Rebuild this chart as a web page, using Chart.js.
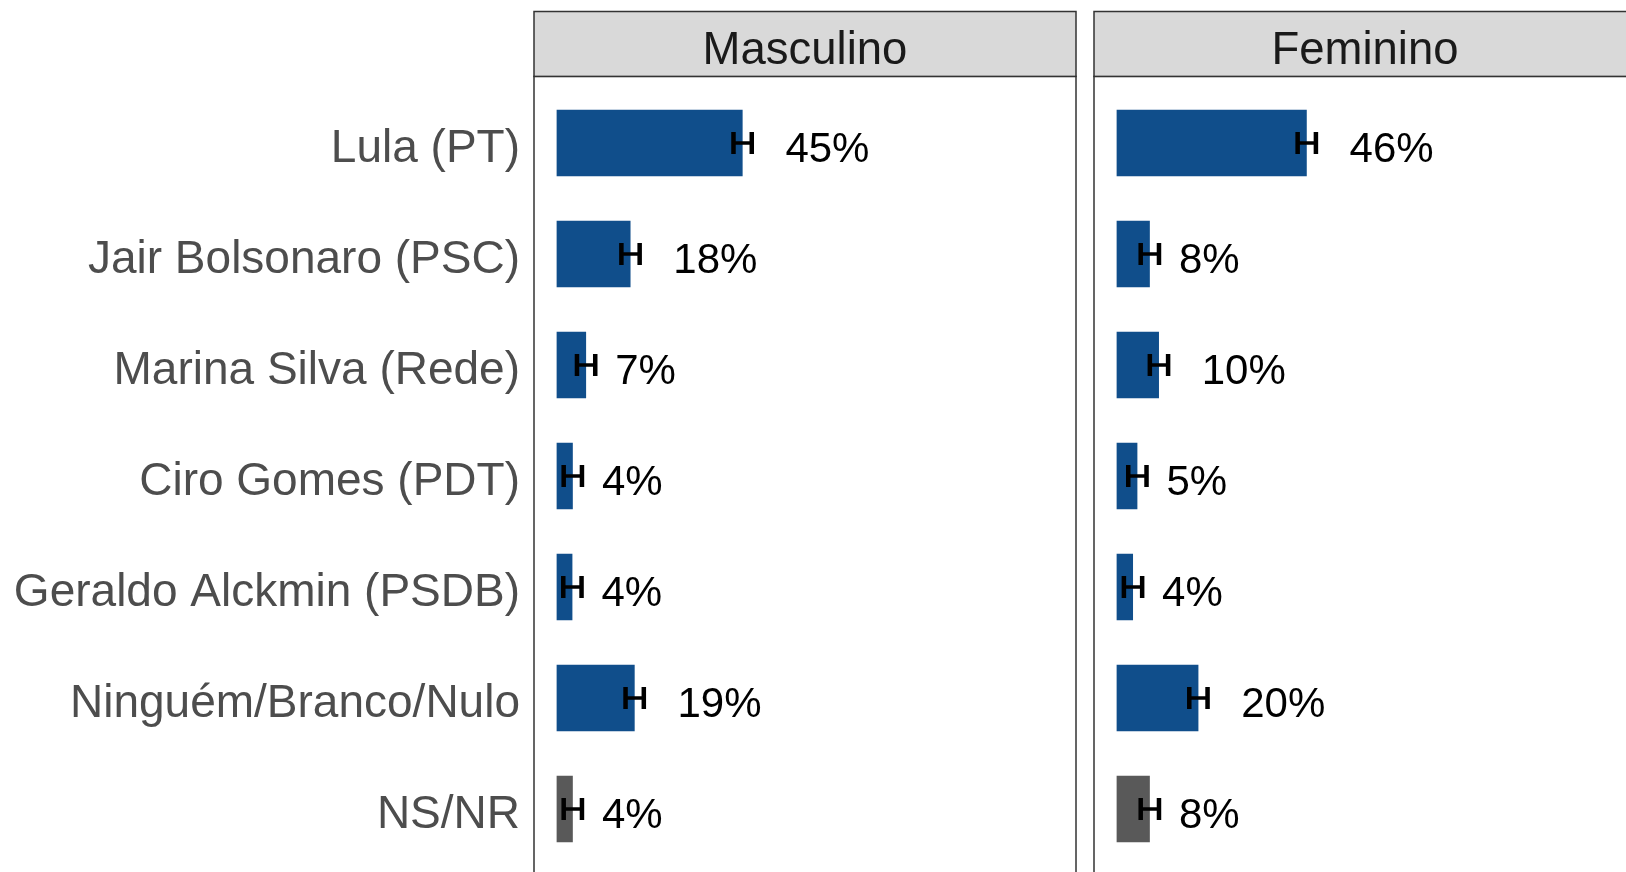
<!DOCTYPE html>
<html>
<head>
<meta charset="utf-8">
<script src="https://cdn.jsdelivr.net/npm/chart.js@4.4.1/dist/chart.umd.min.js"></script>
<style>
  html, body { margin: 0; padding: 0; background: #fff; overflow: hidden; width: 1626px; height: 872px; }
  #wrap { position: relative; width: 1626px; height: 872px; overflow: hidden; }
  .panel { position: absolute; top: 0; height: 880px; }
  #p1 { left: 0; width: 1090px; }
  #p2 { left: 1086px; width: 570px; }
</style>
</head>
<body>
<div id="wrap">
  <div class="panel" id="p1"><canvas id="c1"></canvas></div>
  <div class="panel" id="p2"><canvas id="c2"></canvas></div>
</div>
<script>
const categories = ['Lula (PT)', 'Jair Bolsonaro (PSC)', 'Marina Silva (Rede)', 'Ciro Gomes (PDT)',
                    'Geraldo Alckmin (PSDB)', 'Ninguém/Branco/Nulo', 'NS/NR'];
const panelTitles = ['Masculino', 'Feminino'];
const masculino = [44.8, 17.8, 7.1, 3.9, 3.8, 18.8, 3.9];
const feminino  = [45.8, 8.0, 10.2, 5.0, 3.95, 19.7, 8.0];
const margemErro = 2.2;

const BLUE = '#104E8B', GREY = '#595959';
const FONT = '"Liberation Sans", Arial, sans-serif';
const STRIP_TOP = 11.5;
const X_MIN = -5.45, X_MAX = 125.1;

const facetDecor = {
  id: 'facetDecor',
  beforeDatasetsDraw(chart, args, opts) {
    const { ctx, chartArea: a } = chart;
    const band = (a.bottom - a.top) / categories.length;
    const top = a.top - 0.1 * band, bottom = a.bottom + 0.1 * band;
    ctx.save();
    ctx.strokeStyle = '#333333';
    ctx.lineWidth = 1.5;
    ctx.strokeRect(a.left, top, a.right - a.left, bottom - top);
    // faixa do título
    ctx.fillStyle = '#d9d9d9';
    ctx.fillRect(a.left, STRIP_TOP, a.right - a.left, top - STRIP_TOP);
    ctx.strokeRect(a.left, STRIP_TOP, a.right - a.left, top - STRIP_TOP);
    ctx.fillStyle = '#1a1a1a';
    ctx.font = `45.5px ${FONT}`;
    ctx.textAlign = 'center';
    ctx.textBaseline = 'alphabetic';
    ctx.fillText(opts.title, (a.left + a.right) / 2, (STRIP_TOP + top) / 2 + 20);
    ctx.restore();
  },
  afterDatasetsDraw(chart) {
    const { ctx, chartArea: a, scales: { x, y } } = chart;
    const band = (a.bottom - a.top) / categories.length;
    const h = 0.1 * band;
    const vals = chart.data.datasets[0].data;
    ctx.save();
    ctx.strokeStyle = '#000';
    ctx.fillStyle = '#000';
    vals.forEach((v, i) => {
      const yc = y.getPixelForValue(i);
      const x0 = x.getPixelForValue(v - margemErro);
      const x1 = x.getPixelForValue(v + margemErro);
      ctx.lineWidth = 4.5;
      ctx.beginPath();
      ctx.moveTo(x0, yc - h); ctx.lineTo(x0, yc + h);
      ctx.moveTo(x1, yc - h); ctx.lineTo(x1, yc + h);
      ctx.stroke();
      ctx.lineWidth = 3.5;
      ctx.beginPath();
      ctx.moveTo(x0, yc); ctx.lineTo(x1, yc);
      ctx.stroke();

      const r = Math.round(v);
      const lx = x.getPixelForValue(v + (r < 10 ? 7 : 10.3));
      ctx.font = `42px ${FONT}`;
      ctx.textAlign = 'left';
      ctx.textBaseline = 'alphabetic';
      ctx.fillText(`${r}%`, lx, yc + 18.5);
    });
    ctx.restore();
  }
};

function buildPanel(canvas, values, title, showLabels, padding) {
  return new Chart(canvas, {
    type: 'bar',
    data: {
      labels: categories,
      datasets: [{
        data: values,
        backgroundColor: categories.map((c, i) => i === categories.length - 1 ? GREY : BLUE),
        borderWidth: 0,
        barPercentage: 0.6,
        categoryPercentage: 1.0,
      }]
    },
    options: {
      indexAxis: 'y',
      responsive: true,
      maintainAspectRatio: false,
      devicePixelRatio: 1,
      animation: false,
      layout: { padding },
      plugins: {
        legend: { display: false },
        tooltip: { enabled: false },
        facetDecor: { title },
      },
      scales: {
        x: { type: 'linear', min: X_MIN, max: X_MAX, display: false },
        y: {
          display: showLabels,
          grid: { display: false, drawTicks: false },
          border: { display: false },
          ticks: { color: '#4d4d4d', font: { family: FONT, size: 46 }, padding: 14, labelOffset: 6 },
          afterFit: s => {
            if (!showLabels) return;
            s.width = 534;
            s.paddingTop = 0;
            s.paddingBottom = 0;
          },
        }
      }
    },
    plugins: [facetDecor]
  });
}

buildPanel(document.getElementById('c1'), masculino, panelTitles[0], true,
  { left: 0, right: 14, top: 87.5, bottom: 15.5 });
buildPanel(document.getElementById('c2'), feminino, panelTitles[1], false,
  { left: 8, right: 20, top: 87.5, bottom: 15.5 });
</script>
</body>
</html>
